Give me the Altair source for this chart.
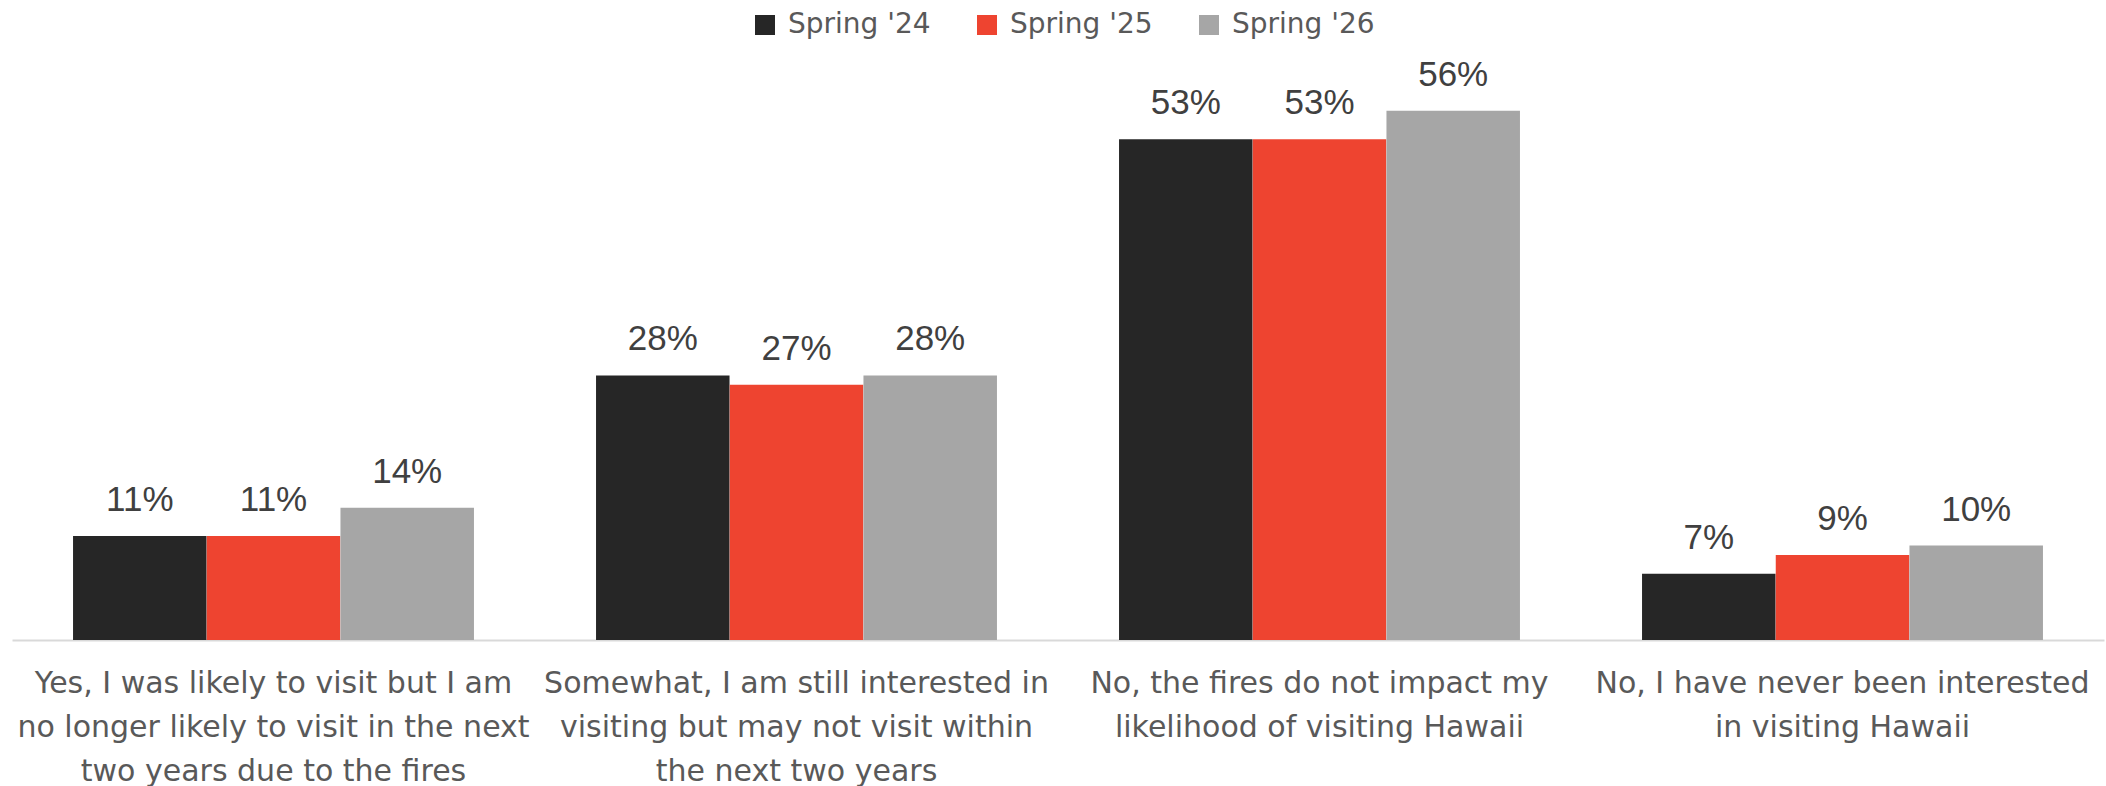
import altair as alt
import pandas as pd

categories = [
    "Yes, I was likely to visit but I am|no longer likely to visit in the next|two years due to the fires",
    "Somewhat, I am still interested in|visiting but may not visit within|the next two years",
    "No, the fires do not impact my|likelihood of visiting Hawaii",
    "No, I have never been interested|in visiting Hawaii",
]
series = ["Spring '24", "Spring '25", "Spring '26"]
spring24 = [11, 28, 53, 7]
spring25 = [11, 27, 53, 9]
spring26 = [14, 28, 56, 10]
colors = ["#262626", "#EE4430", "#A6A6A6"]

rows = []
for s, vals in zip(series, [spring24, spring25, spring26]):
    for c, v in zip(categories, vals):
        rows.append({"category": c, "series": s, "value": v, "label": f"{v}%"})
df = pd.DataFrame(rows)

FONT = "DejaVu Sans"
NUMFONT = "Liberation Sans"

x = alt.X(
    "category:N",
    sort=categories,
    title=None,
    scale=alt.Scale(paddingInner=0.233, paddingOuter=0.1165),
    axis=alt.Axis(
        labelAngle=0,
        labelExpr="split(datum.label, '|')",
        labelFontSize=30,
        labelFont=FONT,
        labelColor="#595959",
        labelLineHeight=44,
        labelPadding=28,
        labelLimit=0,
        ticks=False,
        domainColor="#D9D9D9",
        domainWidth=2,
        grid=False,
    ),
)
y = alt.Y("value:Q", scale=alt.Scale(domain=[0, 60], nice=False), axis=None)
xoff = alt.XOffset("series:N", sort=series)

bars = alt.Chart(df).mark_bar(size=133.5).encode(
    x=x,
    xOffset=xoff,
    y=y,
    color=alt.Color(
        "series:N",
        sort=series,
        scale=alt.Scale(domain=series, range=colors),
        legend=alt.Legend(
            title=None,
            orient="none",
            direction="horizontal",
            legendX=739,
            legendY=-62,
            symbolType="square",
            symbolSize=400,
            symbolStrokeWidth=0,
            labelFontSize=28,
            labelFont=FONT,
            labelColor="#595959",
            labelOffset=9,
            columnPadding=42,
        ),
    ),
)

text = alt.Chart(df).mark_text(
    baseline="alphabetic", dy=-25, fontSize=35, font=NUMFONT, color="#404040"
).encode(x=x, xOffset=xoff, y=y, text="label:N")

chart = (
    alt.layer(bars, text)
    .properties(
        width=2092,
        height=567,
        autosize=alt.AutoSizeParams(type="none"),
        padding={"left": 12, "top": 73, "right": 2, "bottom": 146},
    )
    .configure_view(stroke=None)
)

chart.save("out.html", embed_options={"renderer": "svg", "actions": False})
